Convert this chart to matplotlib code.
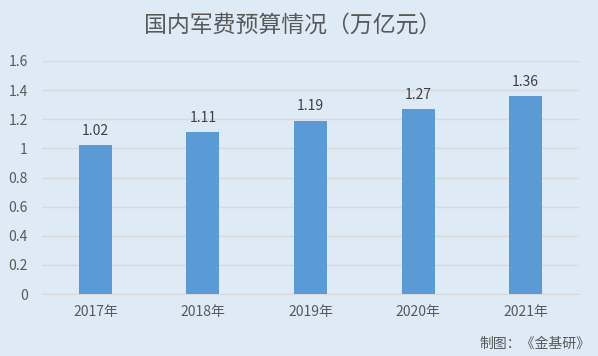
import matplotlib
matplotlib.use("Agg")
import matplotlib.pyplot as plt

plt.rcParams['font.family'] = ['Noto Sans CJK SC', 'DejaVu Sans']

categories = ["2017年", "2018年", "2019年", "2020年", "2021年"]
values = [1.02, 1.11, 1.19, 1.27, 1.36]
yticks = [0, 0.2, 0.4, 0.6, 0.8, 1, 1.2, 1.4, 1.6]
ytick_labels = ["0", "0.2", "0.4", "0.6", "0.8", "1", "1.2", "1.4", "1.6"]

bg = "#DEEAF6"
fig = plt.figure(figsize=(5.98, 3.56), dpi=100, facecolor=bg)
ax = fig.add_axes([41.7/598, 1-294/356, 537.6/598, (294-61)/356], facecolor=bg)

x = list(range(len(categories)))
ax.bar(x, values, width=0.307, color="#5B9BD5", zorder=3)
for xi, v in zip(x, values):
    ax.text(xi, v + 0.05, f"{v:.2f}", ha="center", va="bottom", fontsize=10, color="#404040")

ax.set_xlim(-0.5, len(categories) - 0.5)
ax.set_ylim(0, 1.6)
ax.set_yticks(yticks)
ax.set_yticklabels(ytick_labels)
ax.set_xticks(x)
ax.set_xticklabels(categories)
ax.grid(axis="y", color="#D9D9D9", linewidth=1, zorder=0)
for s in ["top", "right", "left"]:
    ax.spines[s].set_visible(False)
ax.spines["bottom"].set_color("#D9D9D9")
ax.tick_params(axis="both", length=0, labelsize=10, colors="#595959")
ax.tick_params(axis="y", pad=10)
ax.tick_params(axis="x", pad=8)

fig.text(0.49, 1-25/356, "国内军费预算情况（万亿元）", ha="center", va="center", fontsize=16.5, color="#595959")
fig.text(590/598, 1-344/356, "制图：《金基研》", ha="right", va="center", fontsize=10, color="#595959")

fig.savefig("out.png", dpi=100, facecolor=bg)
